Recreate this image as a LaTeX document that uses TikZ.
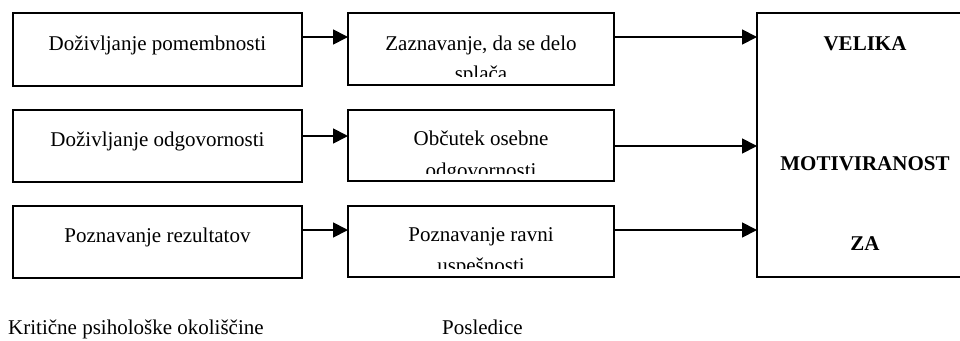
\documentclass[tikz,border=0pt]{standalone}
\usepackage{fontspec}
\setmainfont{Liberation Serif}
\usetikzlibrary{arrows.meta}

\begin{document}
\begin{tikzpicture}[x=1pt, y=-1pt,
  box/.style={draw=black, line width=1.8pt, inner sep=0pt, outer sep=0pt, anchor=north west},
  txt/.style={inner sep=0pt, anchor=base, font=\fontsize{21}{25}\selectfont},
  bold/.style={txt, font=\fontsize{21}{25}\selectfont\bfseries},
  arr/.style={line width=1.8pt, -{Triangle[length=15pt, width=15pt]}}]
\useasboundingbox (0,0) rectangle (960,340);

% left column: critical psychological states
\node[box, minimum width=289pt, minimum height=73pt] (l1) at (13,13) {};
\node[box, minimum width=289pt, minimum height=72pt] (l2) at (13,110) {};
\node[box, minimum width=289pt, minimum height=72pt] (l3) at (13,206) {};
\node[txt] (tl1) at (157.5,50.5) {Doživljanje pomembnosti};
\node[txt] (tl2) at (157.5,146) {Doživljanje odgovornosti};
\node[txt] (tl3) at (157.5,242) {Poznavanje rezultatov};

% middle column: outcomes
\node[box, minimum width=266pt, minimum height=72pt] (m1) at (348,13) {};
\node[box, minimum width=266pt, minimum height=71pt] (m2) at (348,110) {};
\node[box, minimum width=266pt, minimum height=71pt] (m3) at (348,206) {};

\begin{scope}
  \clip (m1.north west) rectangle (m1.east |- 0,76);
  \node[txt] (tm1a) at (481,50.5) {Zaznavanje, da se delo};
  \node[txt] (tm1b) at (481,80) {splača};
\end{scope}
\begin{scope}
  \clip (m2.north west) rectangle (m2.east |- 0,173);
  \node[txt] (tm2a) at (481,145) {Občutek osebne};
  \node[txt] (tm2b) at (481,177) {odgovornosti};
\end{scope}
\begin{scope}
  \clip (m3.north west) rectangle (m3.east |- 0,268.5);
  \node[txt] (tm3a) at (481,241) {Poznavanje ravni};
  \node[txt] (tm3b) at (481,272) {uspešnosti};
\end{scope}

% right column: high motivation
\begin{scope}
  \clip (0,0) rectangle (960,340);
  \node[box, minimum width=216pt, minimum height=264pt] (big) at (757,13) {};
\end{scope}
\node[bold] (tv) at (865,50) {VELIKA};
\node[bold] (tmo) at (865,170.5) {MOTIVIRANOST};
\node[bold] (tza) at (865,250) {ZA};

% connectors
\draw[arr] (l1.east |- 0,37) -- (m1.west |- 0,37);
\draw[arr] (l2.east |- 0,136) -- (m2.west |- 0,136);
\draw[arr] (l3.east |- 0,230) -- (m3.west |- 0,230);
\draw[arr] (m1.east |- 0,37) -- (big.west |- 0,37);
\draw[arr] (m2.east |- 0,146) -- (big.west |- 0,146);
\draw[arr] (m3.east |- 0,230) -- (big.west |- 0,230);

% captions
\node[txt, anchor=base west] (c1) at (8,334) {Kritične psihološke okoliščine};
\node[txt, anchor=base west] (c2) at (442,334) {Posledice};
\end{tikzpicture}
\end{document}
